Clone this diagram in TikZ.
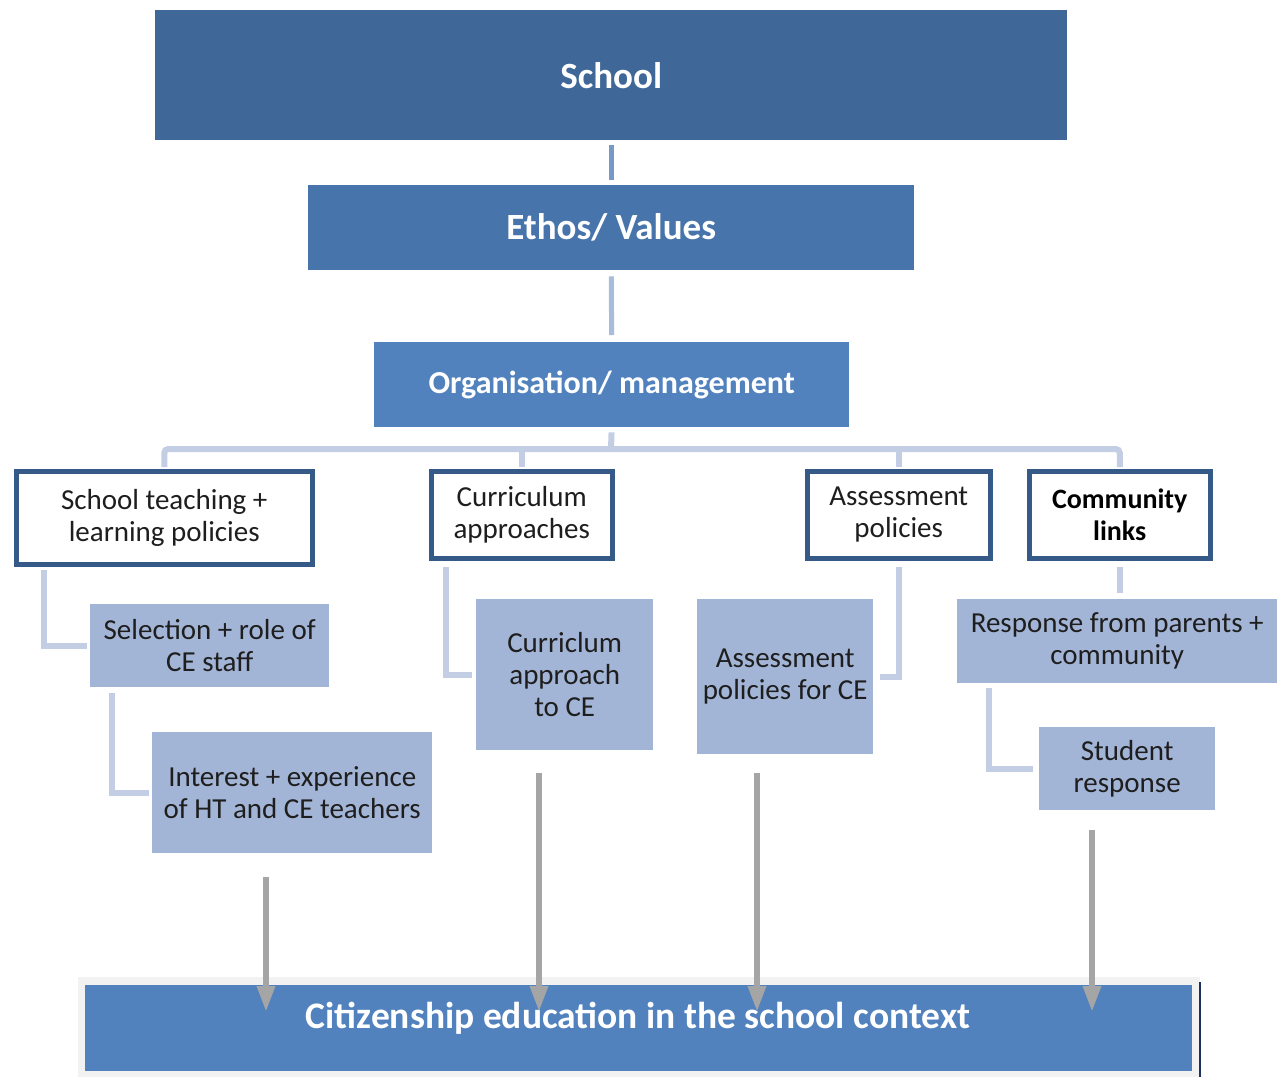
\documentclass[tikz,border=0pt]{standalone}
\usepackage{fontspec}
\setmainfont{Carlito}
\usetikzlibrary{arrows.meta}
\definecolor{cSchool}{RGB}{63,103,151}
\definecolor{cEthos}{RGB}{71,116,170}
\definecolor{cOrg}{RGB}{81,130,189}
\definecolor{cLight}{RGB}{163,181,214}
\definecolor{cBorder}{RGB}{54,90,135}
\definecolor{cConn}{RGB}{195,206,228}
\definecolor{cConnA}{RGB}{120,153,199}
\definecolor{cConnB}{RGB}{168,188,219}
\definecolor{cArrow}{RGB}{165,165,165}
\definecolor{cBg}{RGB}{242,242,242}
\definecolor{cDark}{RGB}{31,47,95}
\definecolor{cText}{RGB}{30,30,30}
\begin{document}
\begin{tikzpicture}[x=1pt,y=-1pt,
  hdr/.style={fill=#1, draw=none, anchor=north west, inner sep=0pt, text=white},
  wbox/.style={draw=cBorder, line width=4.5pt, fill=white, anchor=north west, inner sep=0pt,
     align=center, text=cText, font=\fontsize{29}{32}\selectfont},
  lbox/.style={fill=cLight, draw=none, anchor=north west, inner sep=0pt,
     align=center, text=cText, font=\fontsize{29}{32}\selectfont},
  conn/.style={draw=cConn, line width=6pt},
  arr/.style={draw=cArrow, line width=6pt, -{Triangle[width=17pt,length=26pt]}}
]
\useasboundingbox (0,0) rectangle (1282,1077);
\fill[white] (0,0) rectangle (1282,1077);

% top hierarchy
\node[hdr=cSchool, minimum width=912pt, minimum height=130pt,
      font=\fontsize{37}{44}\selectfont\bfseries] (school) at (155,10) {School};
\node[hdr=cEthos, minimum width=606pt, minimum height=85pt,
      font=\fontsize{37}{44}\selectfont\bfseries] (ethos) at (308,185) {Ethos/ Values};
\node[hdr=cOrg, minimum width=475pt, minimum height=85pt,
      font=\fontsize{32}{38}\selectfont\bfseries] (org) at (374,342) {Organisation/ management};

% second level (white boxes)
\node[wbox, minimum width=296pt, minimum height=93pt] (stl) at (14,469) {School teaching +\\learning policies};
\node[wbox, minimum width=181pt, minimum height=87pt] (cap) at (429,469) {Curriculum\\approaches};
\node[wbox, minimum width=183pt, minimum height=87pt] (asp) at (805,469) {Assessment\\policies};
\node[wbox, minimum width=181pt, minimum height=87pt, font=\fontsize{28}{32}\selectfont\bfseries, text=black] (com) at (1027,469) {Community\\links};

% third level (light boxes)
\node[lbox, minimum width=239pt, minimum height=83pt] (sel) at (90,604) {Selection + role of\\CE staff};
\node[lbox, minimum width=280pt, minimum height=121pt] (intr) at (152,732) {Interest + experience\\of HT and CE teachers};
\node[lbox, minimum width=177pt, minimum height=151pt] (cur) at (476,599) {Curriclum\\approach\\to CE};
\node[lbox, minimum width=176pt, minimum height=155pt] (asce) at (697,599) {Assessment\\policies for CE};
\node[lbox, minimum width=320pt, minimum height=84pt] (resp) at (957,599) {Response from parents +\\community};
\node[lbox, minimum width=176pt, minimum height=83pt] (stu) at (1039,727) {Student\\response};

% bottom box
\fill[cBg] (78,977) rectangle (1200,1077);
\node[hdr=cOrg, minimum width=1107pt, minimum height=86pt] (cit) at (85,985) {};
\draw[cDark, line width=1.5pt] (1200,982) -- (1200,1077);
\node[text=white, font=\fontsize{37.5}{44}\selectfont\bfseries, inner sep=0pt] (citt) at (638,1018) {Citizenship education in the school context};

% connectors
\draw[draw=cConnA, line width=5pt, shorten <=5pt, shorten >=5pt] (school.south) -- (ethos.north);
\draw[draw=cConnB, line width=5pt, shorten <=6pt, shorten >=7pt] (ethos.south) -- (org.north);
\coordinate (bus) at (611,449);
\draw[conn, shorten <=5pt] (org.south) -- (bus);
\draw[conn, rounded corners=4pt, shorten <=2pt, shorten >=2pt] (stl.north) |- (com.north |- bus) -- (com.north);
\draw[conn, shorten >=2pt] (cap.north |- bus) -- (cap.north);
\draw[conn, shorten >=2pt] (asp.north |- bus) -- (asp.north);

\draw[conn, shorten <=3pt, shorten >=3pt] ([xshift=30pt]stl.south west) |- (sel.west);
\draw[conn, shorten <=6pt, shorten >=3pt] ([xshift=22pt]sel.south west) |- (intr.west);
\draw[conn, shorten <=6pt, shorten >=4pt] ([xshift=17pt]cap.south west) |- (cur.west);
\draw[conn, shorten <=6pt, shorten >=7pt] (asp.south) |- (asce.east);
\draw[conn, shorten <=6pt, shorten >=6pt] (com.south) -- (com.south |- resp.north);
\draw[conn, shorten <=5pt, shorten >=6pt] ([xshift=32pt]resp.south west) |- (stu.west);

% arrows into the bottom box
\coordinate (tipy) at (0,1012);
\coordinate (s1) at (266,877);
\coordinate (s2) at (539,773);
\coordinate (s3) at (757,773);
\coordinate (s4) at (1092,830);
\draw[arr] (s1) -- (s1 |- tipy);
\draw[arr] (s2) -- (s2 |- tipy);
\draw[arr] (s3) -- (s3 |- tipy);
\draw[arr] (s4) -- (s4 |- tipy);
\end{tikzpicture}
\end{document}
